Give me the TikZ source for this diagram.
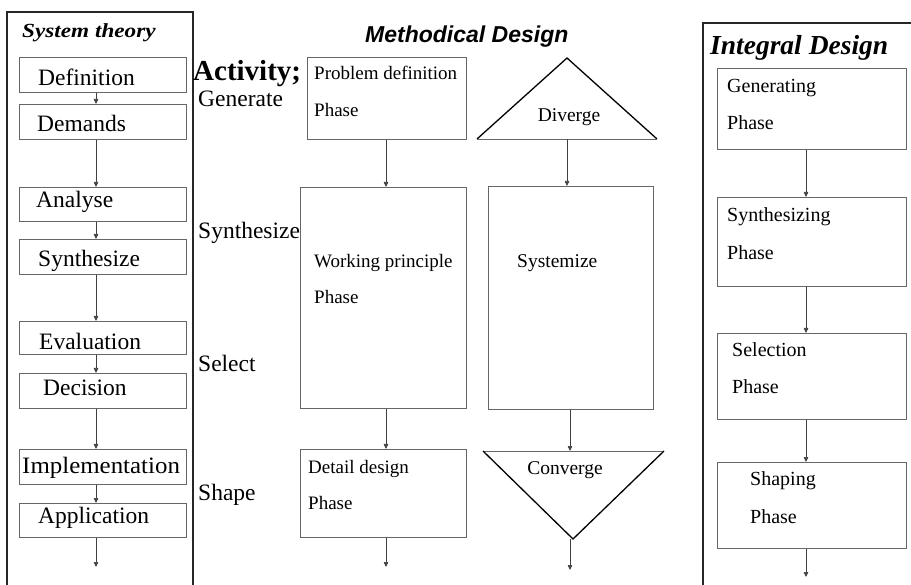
\documentclass[tikz,border=0pt]{standalone}
\usepackage{fontspec}
\setmainfont{Liberation Serif}
\newfontfamily\headsans{Liberation Sans}
\usetikzlibrary{arrows.meta}
\begin{document}
\begin{tikzpicture}[x=1pt,y=-1pt,
  frame/.style={draw=black!85, line width=1.1pt},
  stepbox/.style={draw=black!60, line width=0.9pt, inner sep=0pt, anchor=north west},
  arr/.style={draw=black!75, line width=0.7pt, -{Triangle[length=5pt,width=4.5pt]}},
  tri/.style={draw=black, line width=1.3pt, line join=miter},
  bigtxt/.style={inner sep=0pt, anchor=base west, font=\fontsize{23.5}{23.5}\selectfont},
  smalltxt/.style={inner sep=0pt, anchor=base west, font=\fontsize{19}{19}\selectfont},
  righttxt/.style={inner sep=0pt, anchor=base west, font=\fontsize{20}{20}\selectfont},
  midtxt/.style={inner sep=0pt, anchor=base, font=\fontsize{19.5}{19.5}\selectfont}]
\useasboundingbox (0,0) rectangle (911,585);

% ---------- column frames ----------
\draw[frame] (7,585) -- (7,12) -- (193,12) -- (193,585);
\draw[frame] (703,585) -- (703,23) -- (911,23);

% ---------- headings ----------
\node[inner sep=0pt, anchor=base west, font=\fontsize{20}{20}\selectfont\bfseries\itshape, xscale=1.16] (h1) at (22,38) {System theory};
\node[inner sep=0pt, anchor=base west, font=\fontsize{23}{23}\selectfont\headsans\bfseries\itshape] (h2) at (365,43) {Methodical Design};
\node[inner sep=0pt, anchor=base west, font=\fontsize{27.5}{27.5}\selectfont\bfseries\itshape] (h3) at (710,55) {Integral Design};

% ---------- system theory column ----------
\coordinate (lx) at (96,0);
\node[stepbox, minimum width=167pt, minimum height=35pt] (def) at (19,57) {};
\node[stepbox, minimum width=167pt, minimum height=35pt] (dem) at (19,104) {};
\node[stepbox, minimum width=167pt, minimum height=34pt] (ana) at (19,187) {};
\node[stepbox, minimum width=167pt, minimum height=35pt] (syn) at (19,239) {};
\node[stepbox, minimum width=167pt, minimum height=33pt] (eva) at (19,321) {};
\node[stepbox, minimum width=167pt, minimum height=35pt] (dec) at (19,373) {};
\node[stepbox, minimum width=167pt, minimum height=35pt] (imp) at (19,449) {};
\node[stepbox, minimum width=167pt, minimum height=34pt] (app) at (19,503) {};
\coordinate (lend) at (96,567);

\node[bigtxt] (tdef) at (38,86) {Definition};
\node[bigtxt] (tdem) at (37,132) {Demands};
\node[bigtxt] (tana) at (36,208) {Analyse};
\node[bigtxt] (tsyn) at (38,267) {Synthesize};
\node[bigtxt] (teva) at (39,350) {Evaluation};
\node[bigtxt] (tdec) at (43,396) {Decision};
\node[bigtxt, xscale=1.06] (timp) at (22,473) {Implementation};
\node[bigtxt] (tapp) at (38,523) {Application};

\draw[arr] (def.south -| lx) -- (dem.north -| lx);
\draw[arr] (dem.south -| lx) -- (ana.north -| lx);
\draw[arr] (ana.south -| lx) -- (syn.north -| lx);
\draw[arr] (syn.south -| lx) -- (eva.north -| lx);
\draw[arr] (eva.south -| lx) -- (dec.north -| lx);
\draw[arr] (dec.south -| lx) -- (imp.north -| lx);
\draw[arr] (imp.south -| lx) -- (app.north -| lx);
\draw[arr] (app.south -| lx) -- (lend);

% ---------- activities ----------
\node[inner sep=0pt, anchor=base west, font=\fontsize{29}{29}\selectfont\bfseries] (act) at (193,81) {Activity;};
\node[bigtxt] (agen) at (198,107) {Generate};
\node[bigtxt] (asyn) at (198,239) {Synthesize};
\node[bigtxt] (asel) at (198,372) {Select};
\node[bigtxt] (ashp) at (198,500) {Shape};

% ---------- methodical design: phases ----------
\coordinate (mx) at (386,0);
\node[stepbox, minimum width=159pt, minimum height=82pt] (prob) at (307,57) {};
\node[stepbox, minimum width=166pt, minimum height=221pt] (work) at (300,187) {};
\node[stepbox, minimum width=166pt, minimum height=88pt] (det) at (300,449) {};
\coordinate (mend) at (386,567);

\node[smalltxt] (tprob) at (314,80) {Problem definition};
\node[smalltxt] (tprobp) at (314,117) {Phase};
\node[smalltxt] (twork) at (314,268) {Working principle};
\node[smalltxt] (tworkp) at (314,304) {Phase};
\node[smalltxt] (tdet) at (308,473) {Detail design};
\node[smalltxt] (tdetp) at (308,509) {Phase};

\draw[arr] (prob.south -| mx) -- (work.north -| mx);
\draw[arr] (work.south -| mx) -- (det.north -| mx);
\draw[arr] (det.south -| mx) -- (mend);

% ---------- methodical design: diverge / converge ----------
\coordinate (dtop) at (567,58);
\coordinate (dl) at (477,139);
\coordinate (dr) at (657,139);
\coordinate (dbase) at (567,139);
\draw[tri] (dl) -- (dtop) -- (dr);
\draw[draw=black!60, line width=0.9pt] (dl) -- (dr);
\node[midtxt] (tdiv) at (569,122) {Diverge};

\node[stepbox, minimum width=165pt, minimum height=223pt] (sysz) at (488,186) {};
\node[inner sep=0pt, anchor=base west, font=\fontsize{19.5}{19.5}\selectfont] (tsysz) at (517,268) {Systemize};

\coordinate (cl) at (483,451);
\coordinate (cr) at (664,451);
\coordinate (cbot) at (573,539);
\coordinate (ctop) at (570,451);
\draw[draw=black!60, line width=0.9pt] (cl) -- (cr);
\draw[tri] (cl) -- (cbot) -- (cr);
\node[midtxt] (tcon) at (565,475) {Converge};
\coordinate (cend) at (570,570);

\draw[arr] (dbase) -- (dbase |- sysz.north);
\draw[arr] (sysz.south -| ctop) -- (ctop);
\draw[arr] (cbot -| cend) -- (cend);

% ---------- integral design column ----------
\coordinate (rx) at (806,0);
\node[stepbox, minimum width=189pt, minimum height=81pt] (gen) at (717,68) {};
\node[stepbox, minimum width=189pt, minimum height=89pt] (synz) at (717,197) {};
\node[stepbox, minimum width=189pt, minimum height=86pt] (sel) at (717,333) {};
\node[stepbox, minimum width=189pt, minimum height=86pt] (shp) at (717,462) {};
\coordinate (rend) at (806,577);

\node[righttxt] (tgen) at (727,93) {Generating};
\node[righttxt] (tgenp) at (727,130) {Phase};
\node[righttxt] (tsynz) at (727,222) {Synthesizing};
\node[righttxt] (tsynzp) at (727,260) {Phase};
\node[righttxt] (tsel) at (732,357) {Selection};
\node[righttxt] (tselp) at (732,394) {Phase};
\node[righttxt] (tshp) at (750,485) {Shaping};
\node[righttxt] (tshpp) at (750,523) {Phase};

\draw[arr] (gen.south -| rx) -- (synz.north -| rx);
\draw[arr] (synz.south -| rx) -- (sel.north -| rx);
\draw[arr] (sel.south -| rx) -- (shp.north -| rx);
\draw[arr] (shp.south -| rx) -- (rend);
\end{tikzpicture}
\end{document}
